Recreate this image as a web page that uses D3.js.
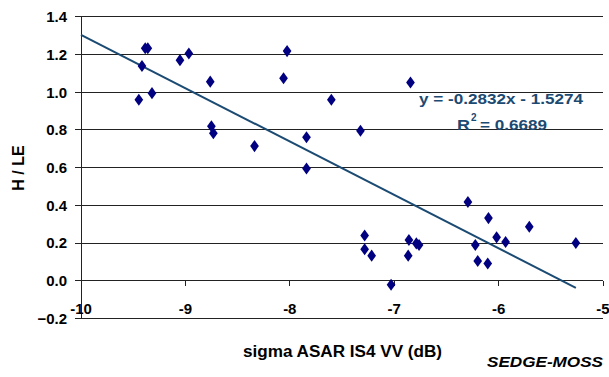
<!DOCTYPE html>
<html>
<head>
<meta charset="utf-8">
<script src="https://cdn.jsdelivr.net/npm/d3@7"></script>
<style>
  body { margin: 0; background: #fff; }
  text { font-family: "Liberation Sans", Arial, sans-serif; font-weight: bold; }
</style>
</head>
<body>
<div id="chart"></div>
<script>
// sigma ASAR IS4 VV (dB)
const sigma = [-9.446, -9.416, -9.385, -9.36, -9.32, -9.052, -8.967, -8.762, -8.751, -8.732,
  -8.338, -8.06, -8.026, -7.84, -7.84, -7.602, -7.323, -7.283, -7.283, -7.216,
  -7.03, -6.866, -6.859, -6.844, -6.788, -6.762, -6.294, -6.223, -6.2, -6.104,
  -6.097, -6.019, -5.933, -5.706, -5.26];
// H / LE
const hle = [0.960, 1.139, 1.233, 1.233, 0.995, 1.170, 1.205, 1.056, 0.819, 0.782,
  0.714, 1.074, 1.218, 0.761, 0.595, 0.960, 0.795, 0.240, 0.167, 0.133,
  -0.021, 0.133, 0.216, 1.051, 0.198, 0.189, 0.418, 0.189, 0.105, 0.091,
  0.332, 0.230, 0.205, 0.286, 0.200];
const xTicks = [-10, -9, -8, -7, -6, -5];
const yTicks = [-0.2, 0, 0.2, 0.4, 0.6, 0.8, 1.0, 1.2, 1.4];
const slope = -0.2832, intercept = -1.5274;

const width = 609, height = 377;
const svg = d3.select("#chart").append("svg")
  .attr("width", width).attr("height", height);

const x = d3.scaleLinear().domain([-10, -5]).range([81, 603]);
const y = d3.scaleLinear().domain([-0.2, 1.4]).range([318.4, 16.8]);

// gridlines (with small ticks left of axis)
svg.append("g").selectAll("line").data(yTicks).enter().append("line")
  .attr("x1", x(-10) - 6).attr("x2", x(-5))
  .attr("y1", d => y(d)).attr("y2", d => y(d))
  .attr("stroke", "#222").attr("stroke-width", 1)
  .attr("shape-rendering", "crispEdges");

// y axis line
svg.append("line")
  .attr("x1", x(-10)).attr("x2", x(-10))
  .attr("y1", y(1.4)).attr("y2", y(-0.2))
  .attr("stroke", "#222").attr("shape-rendering", "crispEdges");

// x ticks at y = 0
svg.append("g").selectAll("line").data(xTicks).enter().append("line")
  .attr("x1", d => x(d)).attr("x2", d => x(d))
  .attr("y1", y(0)).attr("y2", y(0) + 5)
  .attr("stroke", "#222").attr("shape-rendering", "crispEdges");

// y tick labels
svg.append("g").selectAll("text").data(yTicks).enter().append("text")
  .attr("x", 67).attr("y", d => y(d))
  .attr("dy", "0.36em").attr("text-anchor", "end")
  .attr("font-size", 15)
  .text(d => d3.format(".1f")(d));

// x tick labels
svg.append("g").selectAll("text").data(xTicks).enter().append("text")
  .attr("x", d => x(d)).attr("y", 309)
  .attr("dy", "0.36em").attr("text-anchor", "middle")
  .attr("font-size", 15)
  .text(d => d);

// trendline
const xEnd = d3.max(sigma);
svg.append("line")
  .attr("x1", x(-10)).attr("y1", y(slope * -10 + intercept))
  .attr("x2", x(xEnd)).attr("y2", y(slope * xEnd + intercept))
  .attr("stroke", "#1b4a72").attr("stroke-width", 2);

// points
const diamond = d3.symbol().type(d3.symbolDiamond).size(42);
svg.append("g").selectAll("path").data(sigma).enter().append("path")
  .attr("d", diamond)
  .attr("transform", (d, i) => `translate(${x(d)},${y(hle[i])}) scale(1.25,1)`)
  .attr("fill", "#000080");

// equation
svg.append("text")
  .attr("x", 419).attr("y", 104)
  .attr("font-size", 15).attr("fill", "#1b4a72")
  .attr("textLength", 164).attr("lengthAdjust", "spacingAndGlyphs")
  .text("y = -0.2832x - 1.5274");
const r2 = svg.append("g").attr("fill", "#1b4a72");
r2.append("text")
  .attr("x", 457).attr("y", 129.5).attr("font-size", 15)
  .attr("textLength", 13).attr("lengthAdjust", "spacingAndGlyphs")
  .text("R");
r2.append("text")
  .attr("x", 471).attr("y", 121).attr("font-size", 10)
  .text("2");
r2.append("text")
  .attr("x", 480).attr("y", 129.5).attr("font-size", 15)
  .attr("textLength", 67).attr("lengthAdjust", "spacingAndGlyphs")
  .text("= 0.6689");

// axis titles
svg.append("text")
  .attr("x", 243).attr("y", 357)
  .attr("font-size", 16)
  .attr("textLength", 199).attr("lengthAdjust", "spacingAndGlyphs")
  .text("sigma ASAR IS4 VV (dB)");
svg.append("text")
  .attr("transform", "translate(24,168) rotate(-90)")
  .attr("text-anchor", "middle").attr("font-size", 16)
  .text("H / LE");
svg.append("text")
  .attr("x", 487).attr("y", 367)
  .attr("font-size", 14).attr("font-style", "italic")
  .attr("textLength", 116).attr("lengthAdjust", "spacingAndGlyphs")
  .text("SEDGE-MOSS");
</script>
</body>
</html>
